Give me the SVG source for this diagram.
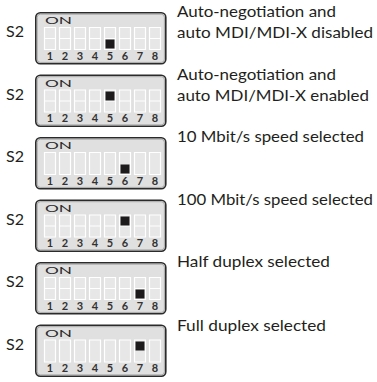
<svg xmlns="http://www.w3.org/2000/svg" xmlns:xlink="http://www.w3.org/1999/xlink" width="377" height="382" viewBox="0 0 377 382">
<style>
.lbl{font-family:Lato,"Open Sans","DejaVu Sans",sans-serif;font-size:16px;fill:#231f20}
.s2{font-family:Lato,"Open Sans","DejaVu Sans",sans-serif;font-size:15px;fill:#231f20}
.on{font-family:Lato,"DejaVu Sans",sans-serif;font-size:10px;fill:#2b2b2b}
.dig{font-family:Lato,"DejaVu Sans",sans-serif;font-size:11px;font-weight:bold;fill:#333}
.box{fill:#e0e0e0;stroke:#2b2b2b;stroke-width:1.6}
.inner{fill:none;stroke:#9a9a9a;stroke-width:0.8}
.slot{fill:#e7e7e7;stroke:#fff;stroke-width:1.2}
.div{fill:none;stroke:#fff;stroke-width:1.2}
.knob{fill:#1e1b1c}
</style>
<defs>
<g id="base">
<rect class="box" x="35.8" y="0.8" width="130" height="51" rx="4.5"/>
<rect class="inner" x="37.2" y="2.2" width="127.2" height="48.2" rx="3.2"/>
<path class="slot" d="M44.5 15.5h11v22h-11z M59.5 15.5h11v22h-11z M74.5 15.5h11v22h-11z M89.5 15.5h11v22h-11z M104.5 15.5h11v22h-11z M119.5 15.5h11v22h-11z M134.5 15.5h11v22h-11z M149.5 15.5h11v22h-11z"/>
</g>
<path id="dv" class="div" d="M44.5 26.5h11 M59.5 26.5h11 M74.5 26.5h11 M89.5 26.5h11 M104.5 26.5h11 M119.5 26.5h11 M134.5 26.5h11 M149.5 26.5h11"/>
</defs>

<g id="sw1" transform="translate(0,12)">
<text class="s2" x="6" y="25" textLength="18" lengthAdjust="spacingAndGlyphs">S2</text>
<use xlink:href="#base"/>
<use xlink:href="#dv"/>
<text class="on" x="45" y="12" textLength="27" lengthAdjust="spacingAndGlyphs">ON</text>
<text class="dig" x="50 65 80 95 110 125 140 155" y="47.5" text-anchor="middle">12345678</text>
<rect class="knob" x="105.5" y="27.5" width="9" height="9"/>
<text class="lbl" x="177" y="5.3" textLength="159" lengthAdjust="spacingAndGlyphs">Auto-negotiation and</text>
<text class="lbl" x="177" y="26" textLength="196" lengthAdjust="spacingAndGlyphs">auto MDI/MDI-X disabled</text>
</g>

<g id="sw2" transform="translate(0,74.5)">
<text class="s2" x="6" y="25" textLength="18" lengthAdjust="spacingAndGlyphs">S2</text>
<use xlink:href="#base"/>
<use xlink:href="#dv"/>
<text class="on" x="45" y="12" textLength="27" lengthAdjust="spacingAndGlyphs">ON</text>
<text class="dig" x="50 65 80 95 110 125 140 155" y="47.5" text-anchor="middle">12345678</text>
<rect class="knob" x="105.5" y="17" width="9" height="9"/>
<text class="lbl" x="177" y="5.3" textLength="159" lengthAdjust="spacingAndGlyphs">Auto-negotiation and</text>
<text class="lbl" x="177" y="26" textLength="192" lengthAdjust="spacingAndGlyphs">auto MDI/MDI-X enabled</text>
</g>

<g id="sw3" transform="translate(0,137)">
<text class="s2" x="6" y="25" textLength="18" lengthAdjust="spacingAndGlyphs">S2</text>
<use xlink:href="#base"/>
<text class="on" x="45" y="12" textLength="27" lengthAdjust="spacingAndGlyphs">ON</text>
<text class="dig" x="50 65 80 95 110 125 140 155" y="47.5" text-anchor="middle">12345678</text>
<rect class="knob" x="120.5" y="27.5" width="9" height="9"/>
<text class="lbl" x="177" y="4.8" textLength="187" lengthAdjust="spacingAndGlyphs">10 Mbit/s speed selected</text>
</g>

<g id="sw4" transform="translate(0,199.5)">
<text class="s2" x="6" y="25" textLength="18" lengthAdjust="spacingAndGlyphs">S2</text>
<use xlink:href="#base"/>
<use xlink:href="#dv"/>
<text class="on" x="45" y="12" textLength="27" lengthAdjust="spacingAndGlyphs">ON</text>
<text class="dig" x="50 65 80 95 110 125 140 155" y="47.5" text-anchor="middle">12345678</text>
<rect class="knob" x="120.5" y="17" width="9" height="9"/>
<text class="lbl" x="177" y="5.5" textLength="196" lengthAdjust="spacingAndGlyphs">100 Mbit/s speed selected</text>
</g>

<g id="sw5" transform="translate(0,262)">
<text class="s2" x="6" y="25" textLength="18" lengthAdjust="spacingAndGlyphs">S2</text>
<use xlink:href="#base"/>
<use xlink:href="#dv"/>
<text class="on" x="45" y="12" textLength="27" lengthAdjust="spacingAndGlyphs">ON</text>
<text class="dig" x="50 65 80 95 110 125 140 155" y="47.5" text-anchor="middle">12345678</text>
<rect class="knob" x="135.5" y="27.5" width="9" height="9"/>
<text class="lbl" x="177" y="5.3" textLength="153" lengthAdjust="spacingAndGlyphs">Half duplex selected</text>
</g>

<g id="sw6" transform="translate(0,324.5)">
<text class="s2" x="6" y="25" textLength="18" lengthAdjust="spacingAndGlyphs">S2</text>
<use xlink:href="#base"/>
<text class="on" x="45" y="12" textLength="27" lengthAdjust="spacingAndGlyphs">ON</text>
<text class="dig" x="50 65 80 95 110 125 140 155" y="47.5" text-anchor="middle">12345678</text>
<rect class="knob" x="135.5" y="17" width="9" height="9"/>
<text class="lbl" x="177" y="6.3" textLength="149" lengthAdjust="spacingAndGlyphs">Full duplex selected</text>
</g>
</svg>
